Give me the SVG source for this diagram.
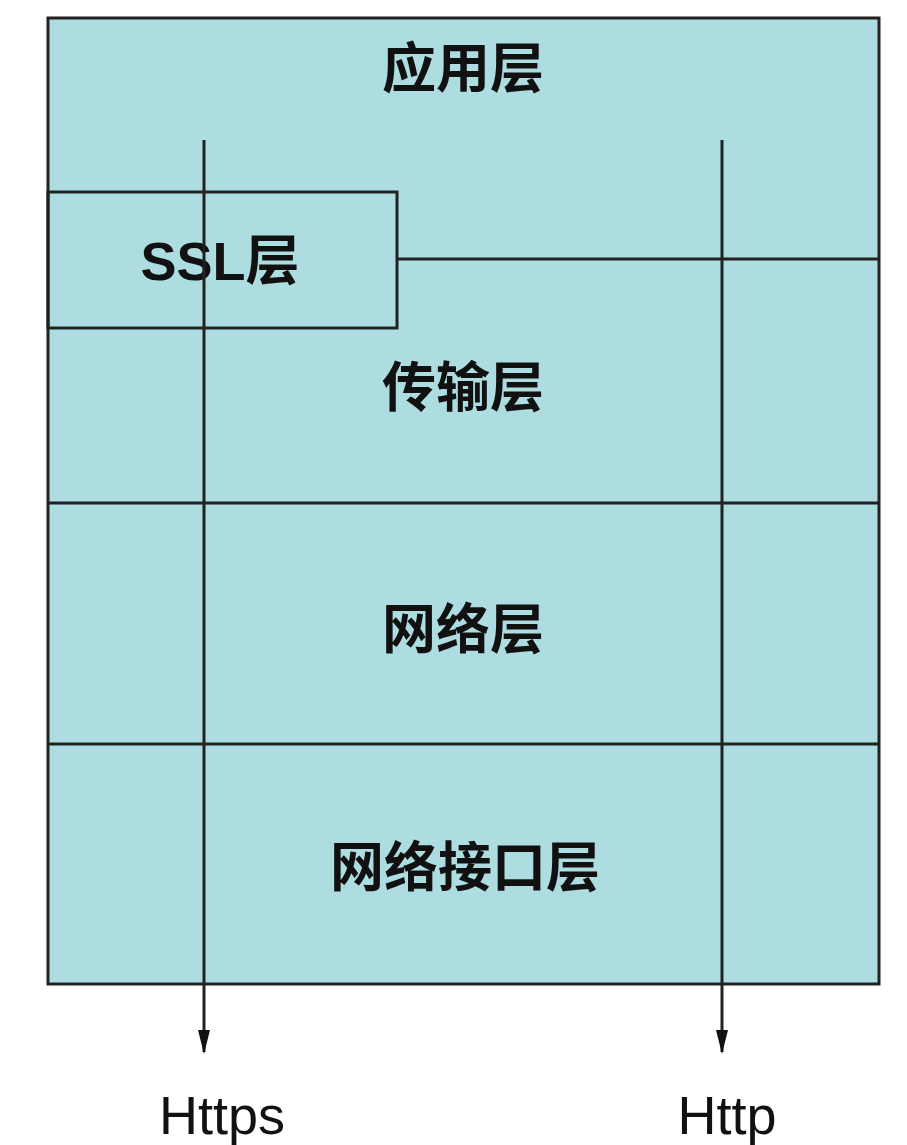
<svg xmlns="http://www.w3.org/2000/svg" width="907" height="1145" viewBox="0 0 907 1145">
<style>
.box{fill:#addde0;stroke:#222;stroke-width:3}
.ln{stroke:#222;stroke-width:3;fill:none}
.cn{font-family:"Noto Sans CJK SC",sans-serif;font-size:54px;font-weight:bold;fill:#111;text-anchor:middle;dominant-baseline:central}
.en{font-family:"Liberation Sans",Arial,sans-serif;font-size:54px;fill:#111;text-anchor:middle}
</style>
<defs>
<marker id="arr" markerWidth="24" markerHeight="14" refX="22" refY="7" orient="auto" markerUnits="userSpaceOnUse" viewBox="0 0 24 14">
<path d="M0,1 L24,7 L0,13 Z" fill="#111"/>
</marker>
</defs>
<rect x="0" y="0" width="907" height="1145" fill="#fff"/>
<g id="stack">
<rect class="box" x="48" y="18" width="831" height="966"/>
</g>
<g id="app"><text class="cn" x="463" y="64">应用层</text></g>
<g id="ssl">
<rect class="ln" x="48" y="192" width="349" height="136"/>
<text x="220" y="261" style="font-family:'Liberation Sans','Noto Sans CJK SC',sans-serif;font-size:54px;font-weight:bold;fill:#111;text-anchor:middle;dominant-baseline:central">SSL层</text>
</g>
<g id="transport">
<path class="ln" d="M397,259 H879"/>
<text class="cn" x="463" y="383">传输层</text>
</g>
<g id="network">
<path class="ln" d="M48,503 H879"/>
<text class="cn" x="463" y="625">网络层</text>
</g>
<g id="iface">
<path class="ln" d="M48,744 H879"/>
<text class="cn" x="465" y="863">网络接口层</text>
</g>
<g id="connectors">
<path class="ln" d="M204,140 V1052" marker-end="url(#arr)"/>
<path class="ln" d="M722,140 V1052" marker-end="url(#arr)"/>
</g>
<g id="labels">
<text class="en" x="222" y="1134">Https</text>
<text class="en" x="727" y="1134">Http</text>
</g>
</svg>
